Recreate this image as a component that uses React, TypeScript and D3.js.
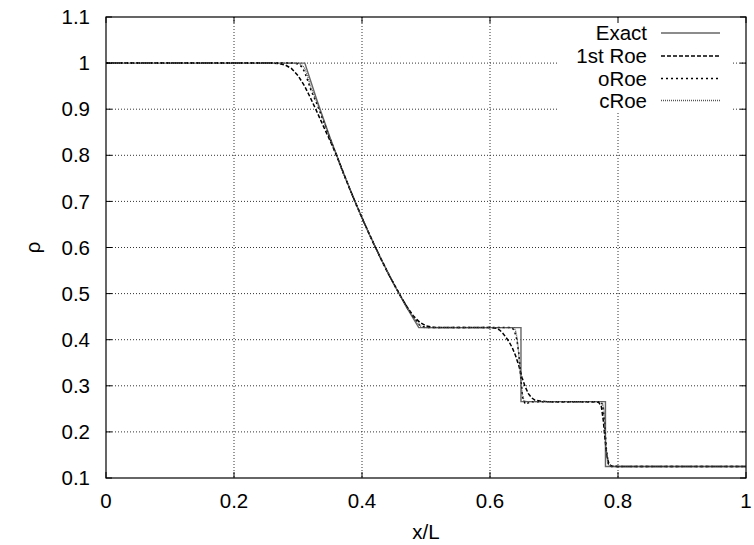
import React from "react";
import * as d3 from "d3";

// ---------- data ----------
const xTicks = [0, 0.2, 0.4, 0.6, 0.8, 1];
const yTicks = [0.1, 0.2, 0.3, 0.4, 0.5, 0.6, 0.7, 0.8, 0.9, 1, 1.1];
const xTickLabels = ["0", "0.2", "0.4", "0.6", "0.8", "1"];
const yTickLabels = ["0.1", "0.2", "0.3", "0.4", "0.5", "0.6", "0.7", "0.8", "0.9", "1", "1.1"];

const exactX = [0, 0.3107, 0.33, 0.35, 0.37, 0.39, 0.41, 0.43, 0.45, 0.47, 0.4887, 0.6484, 0.6484, 0.7804, 0.7804, 1];
const exactRho = [1, 1, 0.9178, 0.8385, 0.7648, 0.6964, 0.6329, 0.5742, 0.5198, 0.4697, 0.4263, 0.4263, 0.2656, 0.2656, 0.125, 0.125];

const roe1X = [0, 0.26, 0.27, 0.28, 0.29, 0.3, 0.31, 0.32, 0.33, 0.34, 0.35, 0.36, 0.38, 0.4, 0.42, 0.44, 0.46, 0.47, 0.48, 0.49, 0.5, 0.51, 0.52, 0.6, 0.61, 0.615, 0.62, 0.625, 0.63, 0.635, 0.64, 0.645, 0.65, 0.655, 0.66, 0.665, 0.67, 0.68, 0.69, 0.765, 0.77, 0.774, 0.777, 0.78, 0.783, 0.786, 0.79, 0.8, 1];
const roe1Rho = [1, 1, 0.999, 0.996, 0.988, 0.973, 0.951, 0.923, 0.893, 0.862, 0.832, 0.801, 0.73, 0.664, 0.603, 0.546, 0.495, 0.472, 0.452, 0.438, 0.43, 0.427, 0.4263, 0.4263, 0.425, 0.421, 0.414, 0.405, 0.395, 0.382, 0.365, 0.344, 0.318, 0.298, 0.283, 0.274, 0.269, 0.2665, 0.2656, 0.2656, 0.264, 0.255, 0.225, 0.18, 0.145, 0.13, 0.126, 0.125, 0.125];

const oRoeX = [0, 0.295, 0.3, 0.305, 0.31, 0.315, 0.32, 0.33, 0.35, 0.37, 0.39, 0.41, 0.43, 0.45, 0.47, 0.48, 0.49, 0.5, 0.634, 0.638, 0.642, 0.645, 0.648, 0.651, 0.655, 0.66, 0.665, 0.772, 0.776, 0.779, 0.782, 0.785, 0.79, 1];
const oRoeRho = [1, 1, 0.998, 0.993, 0.982, 0.963, 0.942, 0.91, 0.836, 0.764, 0.696, 0.633, 0.574, 0.52, 0.471, 0.45, 0.432, 0.4263, 0.4263, 0.42, 0.4, 0.37, 0.32, 0.275, 0.26, 0.263, 0.2656, 0.2656, 0.26, 0.22, 0.16, 0.13, 0.125, 0.125];

const cRoeX = [0, 0.3, 0.305, 0.31, 0.315, 0.32, 0.33, 0.35, 0.37, 0.39, 0.41, 0.43, 0.45, 0.47, 0.48, 0.49, 0.495, 0.638, 0.641, 0.644, 0.647, 0.65, 0.653, 0.657, 0.775, 0.778, 0.781, 0.784, 0.79, 1];
const cRoeRho = [1, 1, 0.997, 0.99, 0.972, 0.948, 0.914, 0.837, 0.764, 0.696, 0.633, 0.574, 0.52, 0.47, 0.449, 0.431, 0.4263, 0.4263, 0.415, 0.385, 0.33, 0.285, 0.268, 0.2656, 0.2656, 0.25, 0.17, 0.13, 0.125, 0.125];

const seriesNames = ["Exact", "1st Roe", "oRoe", "cRoe"];

// ---------- layout ----------
const W = 754;
const H = 545;
const M = { left: 106, right: 746, top: 17, bottom: 478 };
const FONT = "'Liberation Sans', Arial, Helvetica, sans-serif";
const FS = 20.5;

const styles = [
  { stroke: "#666", width: 1.4, dash: "none" },
  { stroke: "#000", width: 1.5, dash: "4,2" },
  { stroke: "#000", width: 1.5, dash: "2,3" },
  { stroke: "#555", width: 1.3, dash: "1,1" },
];

export default function App() {
  const x = d3.scaleLinear().domain([0, 1]).range([M.left, M.right]);
  const y = d3.scaleLinear().domain([0.1, 1.1]).range([M.bottom, M.top]);
  const line = d3
    .line<[number, number]>()
    .x((d) => x(d[0]))
    .y((d) => y(d[1]));

  const series = [
    d3.zip(exactX, exactRho),
    d3.zip(roe1X, roe1Rho),
    d3.zip(oRoeX, oRoeRho),
    d3.zip(cRoeX, cRoeRho),
  ] as [number, number][][];

  const legendTextX = 647;
  const legendLine = [661, 720];
  const legendRows = [33, 56, 78.5, 100.5];

  return (
    <svg
      width={W}
      height={H}
      style={{ position: "absolute", left: 0, top: 0, background: "#fff" }}
      fontFamily={FONT}
    >
      <rect x={0} y={0} width={W} height={H} fill="#fff" />
      {/* grid */}
      {xTicks.slice(1, -1).map((t) => (
        <line key={"gx" + t} x1={x(t)} x2={x(t)} y1={M.top} y2={M.bottom} stroke="#333" strokeWidth={1} strokeDasharray="1,2" />
      ))}
      {yTicks.slice(1, -1).map((t) => (
        <line key={"gy" + t} x1={M.left} x2={M.right} y1={y(t)} y2={y(t)} stroke="#333" strokeWidth={1} strokeDasharray="1,2" />
      ))}
      {/* legend opaque box */}
      <rect x={557} y={19} width={176} height={92} fill="#fff" />
      {/* curves */}
      {series.map((s, i) => (
        <path
          key={"s" + i}
          d={line(s) || ""}
          fill="none"
          stroke={styles[i].stroke}
          strokeWidth={styles[i].width}
          strokeDasharray={styles[i].dash}
        />
      ))}
      {/* border */}
      <rect x={M.left} y={M.top} width={M.right - M.left} height={M.bottom - M.top} fill="none" stroke="#000" strokeWidth={1.2} />
      {/* ticks (mirrored, inward) */}
      {xTicks.map((t) => (
        <g key={"tx" + t}>
          <line x1={x(t)} x2={x(t)} y1={M.bottom} y2={M.bottom - 6} stroke="#000" />
          <line x1={x(t)} x2={x(t)} y1={M.top} y2={M.top + 6} stroke="#000" />
        </g>
      ))}
      {yTicks.map((t) => (
        <g key={"ty" + t}>
          <line x1={M.left} x2={M.left + 6} y1={y(t)} y2={y(t)} stroke="#000" />
          <line x1={M.right} x2={M.right - 6} y1={y(t)} y2={y(t)} stroke="#000" />
        </g>
      ))}
      {/* tick labels */}
      {xTicks.map((t, i) => (
        <text key={"lx" + t} x={x(t)} y={M.bottom + 30} textAnchor="middle" fontSize={FS} fill="#000">
          {xTickLabels[i]}
        </text>
      ))}
      {yTicks.map((t, i) => (
        <text key={"ly" + t} x={90} y={y(t)} dy="0.35em" textAnchor="end" fontSize={FS} fill="#000">
          {yTickLabels[i]}
        </text>
      ))}
      {/* axis titles */}
      <text x={(M.left + M.right) / 2} y={539} textAnchor="middle" fontSize={FS} fill="#000">
        x/L
      </text>
      <text
        transform={`translate(40, ${(M.top + M.bottom) / 2}) rotate(-90)`}
        textAnchor="middle"
        fontSize={FS}
        fill="#000"
      >
        ρ
      </text>
      {/* legend */}
      {seriesNames.map((n, i) => (
        <g key={"lg" + n}>
          <text x={legendTextX} y={legendRows[i]} dy="0.35em" textAnchor="end" fontSize={FS} fill="#000">
            {n}
          </text>
          <line
            x1={legendLine[0]}
            x2={legendLine[1]}
            y1={legendRows[i]}
            y2={legendRows[i]}
            stroke={styles[i].stroke}
            strokeWidth={styles[i].width}
            strokeDasharray={styles[i].dash}
          />
        </g>
      ))}
    </svg>
  );
}
